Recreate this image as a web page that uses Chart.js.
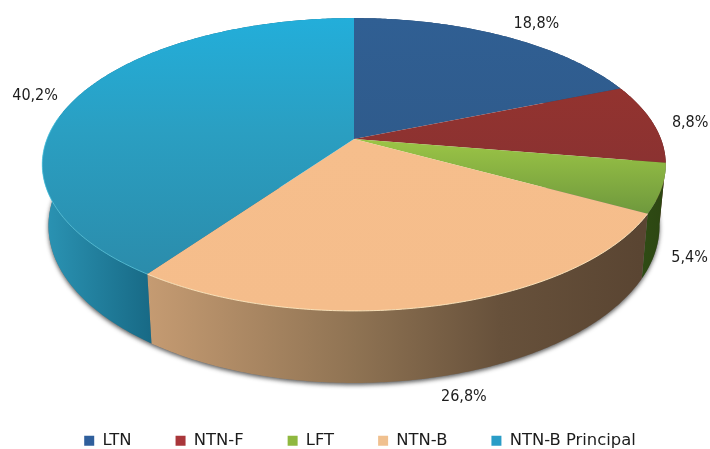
<!DOCTYPE html>
<html lang="en">
  <head>
    <meta charset="UTF-8" />
    <title>Composição por indexador</title>
    <style>
      html, body { margin: 0; background: #fff; overflow: hidden; }
      #wrap { width: 710px; height: 449px; }
    </style>
  </head>
  <body>
    <div id="wrap"><canvas id="chart"></canvas></div>
    <script src="https://cdn.jsdelivr.net/npm/chart.js@4/dist/chart.umd.min.js"></script>
    <script>
      const categories = ["LTN", "NTN-F", "LFT", "NTN-B", "NTN-B Principal"];
      const shares = [18.8, 8.8, 5.4, 26.8, 40.2];
      const legendColors = ["#2f5f9c", "#a9363a", "#8fb83f", "#f0c08f", "#2a9dc7"];

      // top face: vertical gradient stops [y, colour]
      const topColors = [
        [[18, "#305f93"], [139, "#2f5b8c"]],
        [[89, "#93332f"], [162, "#8b3231"]],
        [[139, "#9cc546"], [213, "#6f993d"]],
        [[139, "#f6be8c"], [311, "#f5bd8b"]],
        [[18, "#23aeda"], [130, "#2a9fc2"], [274, "#2b8cab"]],
      ];
      // side wall: horizontal gradient stops [x, colour]
      const wallColors = [
        [[354, "#24466c"], [666, "#24466c"]],
        [[620, "#5c2220"], [666, "#5c2220"]],
        [[640, "#2f4c14"], [666, "#2c4512"]],
        [[148, "#c59b72"], [354, "#8f7353"], [500, "#67513b"], [640, "#5a4532"]],
        [[48, "#2a92b2"], [150, "#186a86"]],
      ];
      // label offset from the middle of the slice's rim
      const labelOffsets = [[33, -12], [37, 0], [28, 70], [27, 91], [-41, -2]];

      // perspective of the disc
      const view = { cx: 354, cy: 139, a: 307, b: 142, k: 0.174, depth: 59.5, shrink: 0.98 };

      function rim(angle, bottom) {
        const u = Math.cos(angle);
        const v = -Math.sin(angle);
        const w = 1 + view.k * v;
        return {
          x: view.cx + (view.a * u / w) * (bottom ? view.shrink : 1),
          y: view.cy - view.b * v / w + (bottom ? view.depth / w : 0),
        };
      }

      function tracePart(ctx, from, to, bottom, first) {
        const steps = Math.max(2, Math.ceil(Math.abs(to - from) / 0.01));
        for (let i = 0; i <= steps; i++) {
          const p = rim(from + (to - from) * i / steps, bottom);
          if (i === 0 && first) ctx.moveTo(p.x, p.y);
          else ctx.lineTo(p.x, p.y);
        }
      }

      function gradient(ctx, stops, vertical) {
        const a = stops[0][0];
        const b = stops[stops.length - 1][0];
        const g = vertical
          ? ctx.createLinearGradient(0, a, 0, b)
          : ctx.createLinearGradient(a, 0, b, 0);
        stops.forEach((s) => g.addColorStop((s[0] - a) / (b - a), s[1]));
        return g;
      }

      const disc3d = {
        id: "disc3d",
        beforeDatasetDraw() {
          return false; // the flat arcs are replaced by the projected ones below
        },
        afterDatasetsDraw(chart) {
          const ctx = chart.ctx;
          const arcs = chart.getDatasetMeta(0).data;
          const top = -Math.PI / 2;
          ctx.save();

          // soft shadow under the front edge
          ctx.save();
          ctx.shadowColor = "rgba(40,40,40,0.75)";
          ctx.shadowBlur = 4;
          ctx.shadowOffsetY = 2;
          ctx.fillStyle = "#777";
          ctx.beginPath();
          tracePart(ctx, top + 1.5, top + 2 * Math.PI - 1.5, true, true);
          ctx.closePath();
          ctx.fill();
          ctx.restore();

          // walls
          arcs.forEach((arc, i) => {
            ctx.beginPath();
            tracePart(ctx, arc.startAngle, arc.endAngle, false, true);
            tracePart(ctx, arc.endAngle, arc.startAngle, true, false);
            ctx.closePath();
            ctx.fillStyle = gradient(ctx, wallColors[i], false);
            ctx.fill();
          });

          // top faces
          arcs.forEach((arc, i) => {
            ctx.beginPath();
            ctx.moveTo(view.cx, view.cy);
            tracePart(ctx, arc.startAngle, arc.endAngle, false, false);
            ctx.closePath();
            ctx.fillStyle = gradient(ctx, topColors[i], true);
            ctx.fill();
          });

          // light line along the front rim
          const rimLights = { 3: "rgba(255,232,190,0.9)", 4: "rgba(90,205,230,0.7)" };
          Object.keys(rimLights).forEach((i) => {
            ctx.beginPath();
            tracePart(ctx, arcs[i].startAngle, Math.min(arcs[i].endAngle, top + 1.55 * Math.PI), false, true);
            ctx.strokeStyle = rimLights[i];
            ctx.lineWidth = 1;
            ctx.stroke();
          });

          // value labels
          ctx.font = "16px 'DejaVu Sans Condensed', 'DejaVu Sans'";
          ctx.fillStyle = "#1c1c1c";
          ctx.textAlign = "center";
          ctx.textBaseline = "middle";
          arcs.forEach((arc, i) => {
            const p = rim((arc.startAngle + arc.endAngle) / 2, false);
            const text = shares[i].toFixed(1).replace(".", ",") + "%";
            ctx.fillText(text, p.x + labelOffsets[i][0], p.y + labelOffsets[i][1]);
          });
          ctx.restore();
        },
      };

      new Chart(document.getElementById("chart"), {
        type: "pie",
        data: {
          labels: categories,
          datasets: [{ data: shares, backgroundColor: legendColors, borderWidth: 0 }],
        },
        options: {
          responsive: true,
          maintainAspectRatio: false,
          animation: false,
          layout: { padding: { left: 10, bottom: -10 } },
          plugins: {
            tooltip: { enabled: false },
            legend: {
              position: "bottom",
              labels: {
                boxWidth: 10,
                boxHeight: 10,
                padding: 44,
                color: "#1c1c1c",
                font: { family: "'DejaVu Sans'", size: 16.4 },
              },
            },
          },
        },
        plugins: [disc3d],
      });
    </script>
  </body>
</html>
